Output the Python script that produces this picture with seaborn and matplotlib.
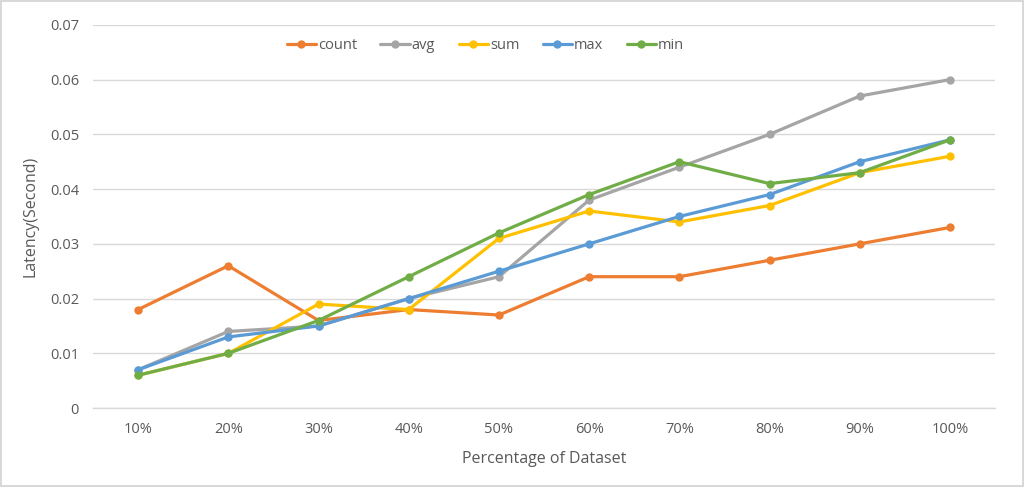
import pandas as pd
import matplotlib
matplotlib.use("Agg")
import matplotlib.pyplot as plt
import seaborn as sns

# Data
percentages = ["10%", "20%", "30%", "40%", "50%", "60%", "70%", "80%", "90%", "100%"]
count_vals = [0.018, 0.026, 0.016, 0.018, 0.017, 0.024, 0.024, 0.027, 0.030, 0.033]
avg_vals = [0.007, 0.014, 0.015, 0.020, 0.024, 0.038, 0.044, 0.050, 0.057, 0.060]
sum_vals = [0.006, 0.010, 0.019, 0.018, 0.031, 0.036, 0.034, 0.037, 0.043, 0.046]
max_vals = [0.007, 0.013, 0.015, 0.020, 0.025, 0.030, 0.035, 0.039, 0.045, 0.049]
min_vals = [0.006, 0.010, 0.016, 0.024, 0.032, 0.039, 0.045, 0.041, 0.043, 0.049]

series = {
    "count": count_vals,
    "avg": avg_vals,
    "sum": sum_vals,
    "max": max_vals,
    "min": min_vals,
}
colors = {
    "count": "#ED7D31",
    "avg": "#A5A5A5",
    "sum": "#FFC000",
    "max": "#5B9BD5",
    "min": "#70AD47",
}

rows = []
for name, vals in series.items():
    for p, v in zip(percentages, vals):
        rows.append({"pct": p, "latency": v, "op": name})
df = pd.DataFrame(rows)

sns.set_style("white")
plt.rcParams["font.family"] = ["Open Sans", "DejaVu Sans"]

fig = plt.figure(figsize=(10.24, 4.87), dpi=100)
fig.patch.set_edgecolor("#D9D9D9")
fig.patch.set_linewidth(1.5)
ax = fig.add_axes([0.0908, 0.162, 0.881, 0.787])

sns.lineplot(
    data=df,
    x="pct",
    y="latency",
    hue="op",
    hue_order=list(series.keys()),
    palette=colors,
    marker="o",
    markersize=6,
    markeredgewidth=0,
    linewidth=2.3,
    sort=False,
    ax=ax,
)

ax.set_xlim(-0.5, len(percentages) - 0.5)
ax.set_ylim(0, 0.07)
ax.set_yticks([0, 0.01, 0.02, 0.03, 0.04, 0.05, 0.06, 0.07])
ax.set_yticklabels(["0", "0.01", "0.02", "0.03", "0.04", "0.05", "0.06", "0.07"])
ax.grid(axis="y", color="#D9D9D9", linewidth=1)
ax.set_axisbelow(True)
for side in ["top", "right", "left"]:
    ax.spines[side].set_visible(False)
ax.spines["bottom"].set_color("#D9D9D9")
ax.spines["bottom"].set_linewidth(1)
ax.tick_params(axis="both", colors="#595959", labelsize=10.5, length=0, pad=10)

ax.set_xlabel("Percentage of Dataset", fontsize=11.5, color="#595959", labelpad=10)
ax.set_ylabel("Latency(Second)", fontsize=11.5, color="#595959", labelpad=8)

leg = ax.legend(
    loc="upper center",
    bbox_to_anchor=(0.435, 1.0),
    ncol=5,
    frameon=False,
    fontsize=10.5,
    handlelength=2.0,
    handletextpad=0.15,
    columnspacing=1.6,
)
for t in leg.get_texts():
    t.set_color("#595959")

plt.savefig("out.png", dpi=100, facecolor="white", edgecolor=fig.patch.get_edgecolor())
plt.close()
